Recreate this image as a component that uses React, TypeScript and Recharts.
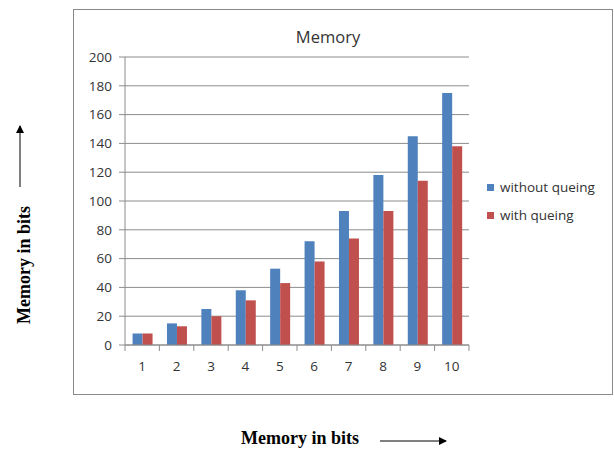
import { BarChart, Bar, XAxis, YAxis, CartesianGrid } from "recharts";

// Values.
const categories = ["1", "2", "3", "4", "5", "6", "7", "8", "9", "10"];
const withoutQueing = [8, 15, 25, 38, 53, 72, 93, 118, 145, 175];
const withQueing = [8, 13, 20, 31, 43, 58, 74, 93, 114, 138];
const yTicks = [0, 20, 40, 60, 80, 100, 120, 140, 160, 180, 200];

const SERIES = [
  { key: "without", name: "without queing", color: "#4F81BD" },
  { key: "with", name: "with queing", color: "#C0504D" },
];

const GRID = "#8C8C8C";
const TEXT = "#333333";
const FONT = "'Open Sans', sans-serif";
const HALF_BAND = 17.2;

const data = categories.map((c, i) => ({
  cat: c,
  without: withoutQueing[i],
  with: withQueing[i],
}));

function XTick(props: any) {
  const { x, y, payload, index } = props;
  return (
    <g>
      <line x1={x - HALF_BAND} y1={y} x2={x - HALF_BAND} y2={y + 6} stroke={GRID} />
      {index === categories.length - 1 && (
        <line x1={x + HALF_BAND} y1={y} x2={x + HALF_BAND} y2={y + 6} stroke={GRID} />
      )}
      <text x={x} y={y + 26} textAnchor="middle" fontSize={13.5} fill={TEXT} fontFamily={FONT}>
        {payload.value}
      </text>
    </g>
  );
}

export default function App() {
  return (
    <div style={{ position: "fixed", left: 0, top: 0, width: 614, height: 453, background: "#fff" }}>
      {/* chart box */}
      <div
        style={{
          position: "absolute",
          left: 73,
          top: 9,
          width: 538,
          height: 384,
          border: "1px solid #8a8a8a",
        }}
      >
        <div
          style={{
            position: "absolute",
            left: 0,
            right: 0,
            top: 16,
            textAlign: "center",
            fontFamily: FONT,
            fontSize: 16.5,
            color: TEXT,
            paddingRight: 30,
            lineHeight: "22px",
          }}
        >
          Memory
        </div>
        <BarChart
          width={538}
          height={384}
          data={data}
          margin={{ top: 47, right: 143, left: 0, bottom: 0 }}
          barGap={0}
          barCategoryGap="22%"
        >
          <CartesianGrid vertical={false} stroke={GRID} />
          <XAxis
            dataKey="cat"
            height={49}
            axisLine={{ stroke: GRID }}
            tickLine={false}
            tickSize={0}
            tickMargin={0}
            tick={<XTick />}
            interval={0}
          />
          <YAxis
            width={51}
            domain={[0, 200]}
            ticks={yTicks}
            interval={0}
            axisLine={{ stroke: GRID }}
            tickLine={{ stroke: GRID }}
            tickSize={6}
            tickMargin={7}
            tick={{ fontSize: 13.5, fill: TEXT, fontFamily: FONT }}
          />
          {SERIES.map((s) => (
            <Bar key={s.key} dataKey={s.key} name={s.name} fill={s.color} isAnimationActive={false} />
          ))}
        </BarChart>
        {/* legend */}
        <div style={{ position: "absolute", left: 413, top: 163, fontFamily: FONT, fontSize: 13.5, color: TEXT }}>
          {SERIES.map((s) => (
            <div key={s.key} style={{ display: "flex", alignItems: "center", height: 28 }}>
              <span style={{ display: "inline-block", width: 7, height: 7, background: s.color, marginRight: 6 }} />
              {s.name}
            </div>
          ))}
        </div>
      </div>

      {/* outside axis titles with arrows */}
      <svg width={614} height={453} style={{ position: "absolute", left: 0, top: 0, pointerEvents: "none" }}>
        <defs>
          <marker id="arr" markerWidth="8" markerHeight="8" refX="7" refY="4" orient="auto" markerUnits="userSpaceOnUse">
            <path d="M0,0 L8,4 L0,8 z" fill="#000" />
          </marker>
        </defs>
        <line x1={20} y1={187} x2={20} y2={126} stroke="#000" strokeWidth={1} markerEnd="url(#arr)" />
        <text
          x={24}
          y={265}
          transform="rotate(-90 24 265)"
          textAnchor="middle"
          dominantBaseline="central"
          fontFamily="'Liberation Serif', serif"
          fontWeight={700}
          fontSize={18}
          fill="#000"
        >
          Memory in bits
        </text>
        <text
          x={300}
          y={438}
          textAnchor="middle"
          dominantBaseline="central"
          fontFamily="'Liberation Serif', serif"
          fontWeight={700}
          fontSize={18}
          fill="#000"
        >
          Memory in bits
        </text>
        <line x1={380} y1={441} x2={446} y2={441} stroke="#000" strokeWidth={1} markerEnd="url(#arr)" />
      </svg>
    </div>
  );
}
